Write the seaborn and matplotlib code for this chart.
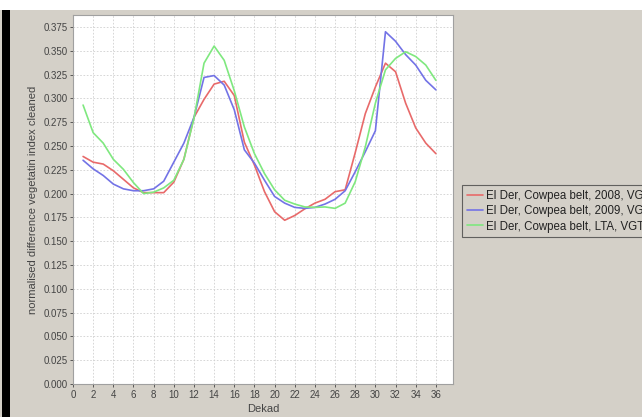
import numpy as np
import pandas as pd
import matplotlib
matplotlib.use("Agg")
import matplotlib.pyplot as plt
from matplotlib.patches import Rectangle
from matplotlib.lines import Line2D
import seaborn as sns

dekads = list(range(1, 37))
series_names = ["El Der, Cowpea belt, 2008, VGT", "El Der, Cowpea belt, 2009, VGT", "El Der, Cowpea belt, LTA, VGT"]
ndvi_2008 = [0.239, 0.233, 0.231, 0.224, 0.215, 0.206, 0.201, 0.201, 0.201, 0.212,
             0.236, 0.280, 0.299, 0.315, 0.318, 0.303, 0.254, 0.230, 0.202, 0.181,
             0.172, 0.177, 0.184, 0.190, 0.194, 0.202, 0.204, 0.243, 0.284, 0.312,
             0.337, 0.328, 0.295, 0.269, 0.253, 0.242]
ndvi_2009 = [0.235, 0.226, 0.219, 0.210, 0.205, 0.203, 0.203, 0.205, 0.213, 0.233,
             0.253, 0.280, 0.322, 0.324, 0.314, 0.288, 0.246, 0.232, 0.214, 0.197,
             0.190, 0.1855, 0.1845, 0.1855, 0.189, 0.194, 0.203, 0.223, 0.244, 0.266,
             0.370, 0.360, 0.346, 0.335, 0.319, 0.309]
ndvi_lta = [0.293, 0.264, 0.253, 0.236, 0.2255, 0.2115, 0.200, 0.2015, 0.206, 0.214,
            0.236, 0.279, 0.337, 0.355, 0.340, 0.308, 0.270, 0.242, 0.221, 0.204,
            0.193, 0.189, 0.186, 0.1855, 0.186, 0.1845, 0.190, 0.2125, 0.249, 0.295,
            0.330, 0.342, 0.349, 0.344, 0.335, 0.319]
colors = ["#e86a6a", "#7373e6", "#7fe87f"]
x_ticks = list(range(0, 37, 2))
y_ticks = [i * 0.025 for i in range(16)]

df = pd.DataFrame({
    "Dekad": dekads * 3,
    "value": ndvi_2008 + ndvi_2009 + ndvi_lta,
    "series": [series_names[0]] * 36 + [series_names[1]] * 36 + [series_names[2]] * 36,
})

sns.set_theme(style="white")
plt.rcParams["font.family"] = ["Liberation Sans", "DejaVu Sans"]
bg = "#d4d0c8"
fig = plt.figure(figsize=(6.42, 4.17), dpi=100, facecolor=bg)
fig.patches.append(Rectangle((0, 1 - 10 / 417), 1, 10 / 417, transform=fig.transFigure,
                             facecolor="white", edgecolor="none", zorder=0))
fig.patches.append(Rectangle((2 / 642, 0), 8 / 642, 1 - 10 / 417, transform=fig.transFigure,
                             facecolor="black", edgecolor="none", zorder=0))

ax = fig.add_axes([73 / 642, 1 - 384 / 417, 380 / 642, 369 / 417])
ax.set_facecolor("white")
sns.lineplot(data=df, x="Dekad", y="value", hue="series", palette=colors, ax=ax,
             linewidth=1.2, legend=False)
ax.set_xlim(0, 37.7)
ax.set_ylim(0, 0.3876)
ax.set_xticks(x_ticks)
ax.set_yticks(y_ticks)
ax.set_yticklabels([f"{v:.3f}" for v in y_ticks])
ax.tick_params(axis="both", labelsize=7, colors="#444444", length=2, width=0.6,
               direction="out", pad=2, left=True, bottom=True)
ax.grid(True, color="#d0d0d0", linestyle=(0, (2, 2)), linewidth=0.6)
for s in ax.spines.values():
    s.set_color("#a0a0a0")
    s.set_linewidth(0.8)
ax.set_xlabel("Dekad", fontsize=8, color="#444444", labelpad=3)
ax.set_ylabel("normalised difference vegetatin index cleaned", fontsize=8, color="#444444", labelpad=4)

handles = [Line2D([0], [0], color=c, linewidth=1.2) for c in colors]
leg = fig.legend(handles, series_names, loc="upper left",
                 bbox_to_anchor=(462 / 642, 1 - 185 / 417), fontsize=8.3,
                 frameon=True, fancybox=False, facecolor=bg, edgecolor="#444444",
                 handlelength=1.4, handletextpad=0.3, labelspacing=0.3,
                 borderpad=0.4, borderaxespad=0)
leg.get_frame().set_linewidth(0.8)
for t in leg.get_texts():
    t.set_color("#222222")

fig.savefig("out.png", dpi=100, facecolor=bg)
